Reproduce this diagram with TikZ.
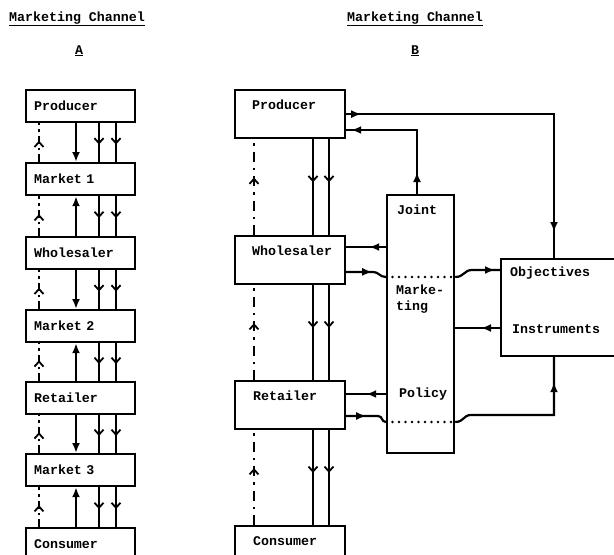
\documentclass[tikz,border=0pt]{standalone}
\usepackage{fontspec}
\newfontfamily\dgmono{Liberation Mono}[BoldFont={Liberation Mono Bold}]
\newcommand\dgfont{\dgmono\bfseries\fontsize{13.3}{16}\selectfont}
\usetikzlibrary{arrows.meta,decorations.markings,calc}
\newcommand\tipT{\arrow{Latex[length=10pt,width=8pt]}}
\newcommand\tipB{\arrow{Straight Barb[length=5pt,width=9pt,line width=1.8pt]}}
\tikzset{
  ln/.style={line width=2.2pt},
  marks/.style={postaction={decorate,decoration={markings,#1}}},
  ddash/.style={dash pattern=on 8pt off 4pt on 2.5pt off 4pt},
  dotln/.style={line width=2.6pt, dash pattern=on 0pt off 6.5pt, line cap=round},
  boxA/.style={draw, line width=2.2pt, anchor=north west, text width=93pt, inner xsep=8pt, inner ysep=0pt, minimum height=32pt, align=left, font=\dgfont},
  boxB/.style={draw, line width=2.2pt, anchor=north west, minimum width=110pt, minimum height=48pt, inner sep=0pt},
  txt/.style={font=\dgfont, inner sep=0pt},
  endT/.style={-{Latex[length=10pt,width=8pt]}},
}
\begin{document}
\begin{tikzpicture}[x=1pt,y=-1pt]
\useasboundingbox (0,0) rectangle (614,555);
\clip (0,0) rectangle (614,555);

% titles
\node[txt, anchor=base west] (tA) at (9,21) {\underline{Marketing Channel}};
\node[txt, anchor=base] (tAl) at (79,54) {\underline{A}};
\node[txt, anchor=base west] (tB) at (347,21) {\underline{Marketing Channel}};
\node[txt, anchor=base] (tBl) at (415,54) {\underline{B}};

% ---------- Channel A ----------
\node[boxA] (AP)  at (25,89)  {Producer};
\node[boxA] (AM1) at (25,162) {Market 1};
\node[boxA] (AW)  at (25,236) {Wholesaler};
\node[boxA] (AM2) at (25,309) {Market 2};
\node[boxA] (AR)  at (25,381) {Retailer};
\node[boxA] (AM3) at (25,453) {Market 3};
\node[boxA] (AC)  at (25,527) {Consumer};

\coordinate (xa1) at (39,0);
\coordinate (xa2) at (76,0);
\coordinate (xa3) at (99,0);
\coordinate (xa4) at (116,0);

\foreach \u/\l/\d in {AP/AM1/0, AM1/AW/1, AW/AM2/0, AM2/AR/1, AR/AM3/0, AM3/AC/1} {
  \draw[ln, ddash, marks={mark=at position 0.55 with {\tipB}}] (\l.north -| xa1) -- (\u.south -| xa1);
  \ifnum\d=0
    \draw[ln, endT] (\u.south -| xa2) -- (\l.north -| xa2);
  \else
    \draw[ln, endT] (\l.north -| xa2) -- (\u.south -| xa2);
  \fi
  \draw[ln, marks={mark=at position 0.55 with {\tipB}}] (\u.south -| xa3) -- (\l.north -| xa3);
  \draw[ln, marks={mark=at position 0.55 with {\tipB}}] (\u.south -| xa4) -- (\l.north -| xa4);
}

% ---------- Channel B ----------
\node[boxB] (BP) at (234,89)  {};
\node[boxB] (BW) at (234,235) {};
\node[boxB] (BR) at (234,380) {};
\node[boxB] (BC) at (234,525) {};
\node[txt, anchor=west] (BPt) at ($(BP.north west)+(18,16)$) {Producer};
\node[txt, anchor=west] (BWt) at ($(BW.north west)+(18,16)$) {Wholesaler};
\node[txt, anchor=west] (BRt) at ($(BR.north west)+(19,16)$) {Retailer};
\node[txt, anchor=west] (BCt) at ($(BC.north west)+(19,16)$) {Consumer};

\coordinate (xb1) at (254,0);
\coordinate (xb2) at (313,0);
\coordinate (xb3) at (329,0);

\foreach \u/\l in {BP/BW, BW/BR, BR/BC} {
  \draw[ln, dash pattern=on 10pt off 6pt on 2.5pt off 6pt, marks={mark=at position 0.6 with {\tipB}}] (\l.north -| xb1) -- (\u.south -| xb1);
  \draw[ln, marks={mark=at position 0.45 with {\tipB}}] (\u.south -| xb2) -- (\l.north -| xb2);
  \draw[ln, marks={mark=at position 0.45 with {\tipB}}] (\u.south -| xb3) -- (\l.north -| xb3);
}

% Joint marketing policy
\node[draw, line width=2.2pt, anchor=north west, minimum width=67pt, minimum height=258pt, inner sep=0pt] (J) at (386,194) {};
\node[txt, anchor=west] (tJ) at (397,210) {Joint};
\node[txt, anchor=north west, align=left] (tM) at (396,285) {Marke-\\ting};
\node[txt, anchor=west] (tPo) at (399,394) {Policy};

% Objectives / Instruments
\node[draw, line width=2.2pt, anchor=north west, minimum width=130pt, minimum height=97pt, inner sep=0pt] (O) at (500,258) {};
\node[txt, anchor=west] (tO) at (510,273) {Objectives};
\node[txt, anchor=west] (tI) at (512,329) {Instruments};

% helper coordinates
\coordinate (xo) at (554,0);
\coordinate (xj) at (417,0);
\coordinate (cy130) at (0,130);
\coordinate (cy247) at (0,247);
\coordinate (cy272) at (0,272);
\coordinate (cy277) at (0,277);
\coordinate (cy270) at (0,270);
\coordinate (cy328) at (0,328);
\coordinate (cy394) at (0,394);
\coordinate (cy416) at (0,416);
\coordinate (cy422) at (0,422);
\coordinate (w1) at (372,272);
\coordinate (w2) at (472,270);
\coordinate (r1) at (378,416);
\coordinate (r2) at (471,415);

% Producer -> Objectives
\draw[ln, marks={mark=at position 15pt with {\tipT}, mark=at position -26pt with {\tipT}}]
  (BP.east) -| (O.north -| xo);
% Joint -> Producer
\draw[ln, marks={mark=at position 22pt with {\tipT}, mark=at position -5pt with {\tipT}}]
  (J.north -| xj) |- (BP.east |- cy130);
% Joint -> Wholesaler
\draw[ln, marks={mark=at position -23pt with {\tipT}}] (J.west |- cy247) -- (BW.east |- cy247);
% Wholesaler -> (Joint) -> Objectives
\draw[ln, marks={mark=at position 26pt with {\tipT}}]
  (BW.east |- cy272) -- (w1) .. controls +(8,0) and +(-7,0) .. (J.west |- cy277);
\draw[dotln] (J.west |- cy277) -- (J.east |- cy277);
\draw[ln, marks={mark=at position -5pt with {\tipT}}]
  (J.east |- cy277) .. controls +(9,0) and +(-8,0) .. (w2) -- (O.west |- cy270);
% Instruments -> Joint
\draw[ln, marks={mark=at position 19pt with {\tipT}}] (O.west |- cy328) -- (J.east |- cy328);
% Joint -> Retailer
\draw[ln, marks={mark=at position -20pt with {\tipT}}] (J.west |- cy394) -- (BR.east |- cy394);
% Retailer -> (Joint) -> Instruments
\draw[ln, marks={mark=at position 20pt with {\tipT}}]
  (BR.east |- cy416) -- (r1) .. controls +(5,0) and +(-5,0) .. (J.west |- cy422);
\draw[dotln] (J.west |- cy422) -- (J.east |- cy422);
\draw[ln, marks={mark=at position -25pt with {\tipT}}]
  (J.east |- cy422) .. controls +(9,0) and +(-8,0) .. (r2) -| (O.south -| xo);
\end{tikzpicture}
\end{document}
